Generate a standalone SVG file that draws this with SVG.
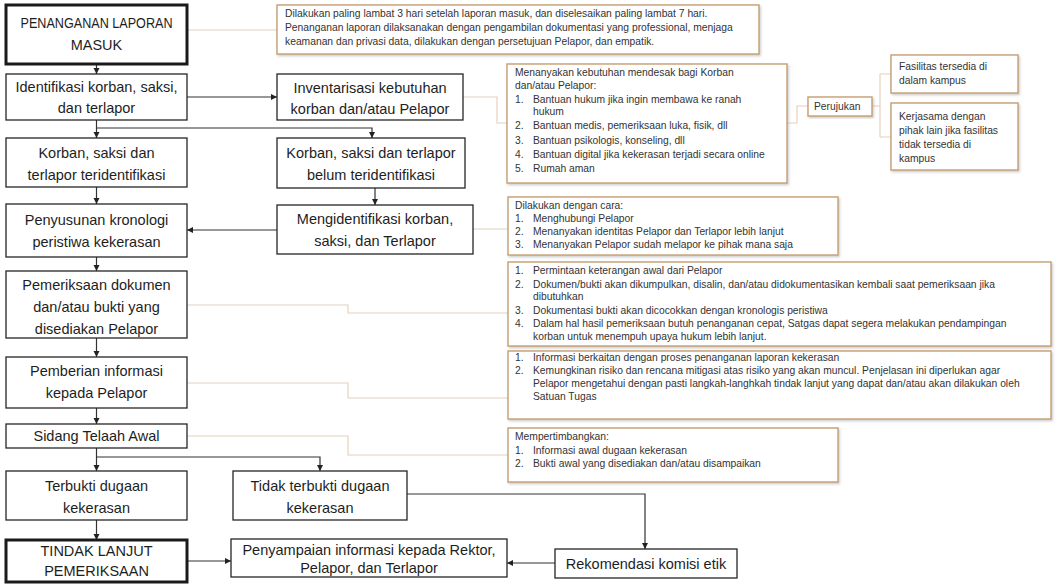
<svg xmlns="http://www.w3.org/2000/svg" width="1057" height="587" viewBox="0 0 1057 587">
<defs>
<style>
.bx{fill:#fff;stroke:#262626;stroke-width:1.3}
.bxb{fill:#fff;stroke:#1a1a1a;stroke-width:3}
.nt{fill:#fff;stroke:#C59E72;stroke-width:1.4;filter:url(#sh)}
.t{font-family:"Liberation Sans",Arial,sans-serif;font-size:14.5px;fill:#1e1e1e;text-anchor:middle}
.n{font-family:"Liberation Sans",Arial,sans-serif;font-size:10.3px;fill:#333}
.ca{fill:none;stroke:#333;stroke-width:1.2;marker-end:url(#ar)}
.cl{fill:none;stroke:#E4D2BC;stroke-width:1.2}
</style>
<marker id="ar" markerWidth="8" markerHeight="8" refX="6" refY="3" orient="auto" markerUnits="userSpaceOnUse">
<path d="M0,0 L6,3 L0,6 Z" fill="#222"/>
</marker>
<filter id="sh" x="-5%" y="-5%" width="110%" height="120%">
<feDropShadow dx="1.2" dy="1.5" stdDeviation="0.8" flood-color="#999" flood-opacity="0.5"/>
</filter>
</defs>
<rect width="1057" height="587" fill="#fff"/>

<g id="connectors">
<path class="cl" d="M187,30 H277"/>
<path class="cl" d="M463,97 H497 V123 H507"/>
<path class="cl" d="M787,123 H797 V106 H808"/>
<path class="cl" d="M872,106 H880 M880,74 V137 M880,74 H891 M880,137 H891"/>
<path class="cl" d="M473,229 H508"/>
<path class="cl" d="M187,305 H348 V313 H508"/>
<path class="cl" d="M187,383 H348 V398 H508"/>
<path class="cl" d="M187,436 H348 V455 H508"/>

<path class="ca" d="M96.5,64 V74"/>
<path class="ca" d="M187,97 H277"/>
<path class="ca" d="M96.5,120 V138"/>
<path class="ca" d="M96.5,128 H372 V138"/>
<path class="ca" d="M375,188 V205"/>
<path class="ca" d="M277,230 H187"/>
<path class="ca" d="M96.5,187 V204"/>
<path class="ca" d="M96.5,257 V271"/>
<path class="ca" d="M96.5,338 V357"/>
<path class="ca" d="M96.5,408 V424"/>
<path class="ca" d="M96.5,448 V471"/>
<path class="ca" d="M96.5,457 H320 V471"/>
<path class="ca" d="M96.5,520 V540"/>
<path class="ca" d="M187,561 H231"/>
<path class="ca" d="M407,494 H645 V549"/>
<path class="ca" d="M555,563 H507"/>
</g>

<g id="n-penanganan">
<rect class="bxb" x="6" y="5" width="181" height="59"/>
<text class="t" x="96.5" y="28" textLength="152" lengthAdjust="spacingAndGlyphs">PENANGANAN LAPORAN</text>
<text class="t" x="96.5" y="50">MASUK</text>
</g>
<g id="n-identifikasi">
<rect class="bx" x="6" y="74" width="181" height="46"/>
<text class="t" x="96.5" y="92">Identifikasi korban, saksi,</text>
<text class="t" x="96.5" y="113">dan terlapor</text>
</g>
<g id="n-teridentifikasi">
<rect class="bx" x="6" y="138" width="181" height="49"/>
<text class="t" x="96.5" y="158">Korban, saksi dan</text>
<text class="t" x="96.5" y="180">terlapor teridentifikasi</text>
</g>
<g id="n-penyusunan">
<rect class="bx" x="6" y="204" width="181" height="53"/>
<text class="t" x="96.5" y="225">Penyusunan kronologi</text>
<text class="t" x="96.5" y="247">peristiwa kekerasan</text>
</g>
<g id="n-pemeriksaan">
<rect class="bx" x="6" y="271" width="181" height="67"/>
<text class="t" x="96.5" y="290">Pemeriksaan dokumen</text>
<text class="t" x="96.5" y="312">dan/atau bukti yang</text>
<text class="t" x="96.5" y="334">disediakan Pelapor</text>
</g>
<g id="n-pemberian">
<rect class="bx" x="6" y="357" width="181" height="51"/>
<text class="t" x="96.5" y="376">Pemberian informasi</text>
<text class="t" x="96.5" y="398">kepada Pelapor</text>
</g>
<g id="n-sidang">
<rect class="bx" x="6" y="424" width="181" height="24"/>
<text class="t" x="96.5" y="441">Sidang Telaah Awal</text>
</g>
<g id="n-terbukti">
<rect class="bx" x="6" y="471" width="181" height="49"/>
<text class="t" x="96.5" y="491">Terbukti dugaan</text>
<text class="t" x="96.5" y="513">kekerasan</text>
</g>
<g id="n-tindak">
<rect class="bxb" x="6" y="540" width="181" height="42"/>
<text class="t" x="96.5" y="556">TINDAK LANJUT</text>
<text class="t" x="96.5" y="576">PEMERIKSAAN</text>
</g>

<g id="n-inventarisasi">
<rect class="bx" x="277" y="74" width="186" height="46"/>
<text class="t" x="370" y="93">Inventarisasi kebutuhan</text>
<text class="t" x="370" y="114">korban dan/atau Pelapor</text>
</g>
<g id="n-belum">
<rect class="bx" x="277" y="138" width="188" height="50"/>
<text class="t" x="371" y="158">Korban, saksi dan terlapor</text>
<text class="t" x="371" y="180">belum teridentifikasi</text>
</g>
<g id="n-mengidentifikasi">
<rect class="bx" x="277" y="205" width="196" height="49"/>
<text class="t" x="375" y="224">Mengidentifikasi korban,</text>
<text class="t" x="375" y="246">saksi, dan Terlapor</text>
</g>
<g id="n-tidak">
<rect class="bx" x="233" y="471" width="174" height="49"/>
<text class="t" x="320" y="491">Tidak terbukti dugaan</text>
<text class="t" x="320" y="513">kekerasan</text>
</g>
<g id="n-penyampaian">
<rect class="bx" x="231" y="539" width="276" height="38"/>
<text class="t" x="369" y="555">Penyampaian informasi kepada Rektor,</text>
<text class="t" x="369" y="573">Pelapor, dan Terlapor</text>
</g>
<g id="n-rekomendasi">
<rect class="bx" x="555" y="549" width="182" height="29"/>
<text class="t" x="646" y="569">Rekomendasi komisi etik</text>
</g>

<g id="note-waktu">
<rect class="nt" x="277" y="5" width="482" height="49"/>
<text class="n" x="285" y="17">Dilakukan paling lambat 3 hari setelah laporan masuk, dan diselesaikan paling lambat 7 hari.</text>
<text class="n" x="285" y="31">Penanganan laporan dilaksanakan dengan pengambilan dokumentasi yang professional, menjaga</text>
<text class="n" x="285" y="45">keamanan dan privasi data, dilakukan dengan persetujuan Pelapor, dan empatik.</text>
</g>
<g id="note-kebutuhan">
<rect class="nt" x="507" y="64" width="280" height="119"/>
<text class="n" x="515" y="76">Menanyakan kebutuhan mendesak bagi Korban</text>
<text class="n" x="515" y="89">dan/atau Pelapor:</text>
<text class="n" x="515" y="103">1.</text><text class="n" x="533" y="103">Bantuan hukum jika ingin membawa ke ranah</text>
<text class="n" x="533" y="115">hukum</text>
<text class="n" x="515" y="129">2.</text><text class="n" x="533" y="129">Bantuan medis, pemeriksaan luka, fisik, dll</text>
<text class="n" x="515" y="144">3.</text><text class="n" x="533" y="144">Bantuan psikologis, konseling, dll</text>
<text class="n" x="515" y="158">4.</text><text class="n" x="533" y="158">Bantuan digital jika kekerasan terjadi secara online</text>
<text class="n" x="515" y="172">5.</text><text class="n" x="533" y="172">Rumah aman</text>
</g>
<g id="n-perujukan">
<rect class="nt" x="808" y="97" width="64" height="19"/>
<text class="n" x="814" y="110">Perujukan</text>
</g>
<g id="n-fasilitas">
<rect class="nt" x="891" y="55" width="127" height="38"/>
<text class="n" x="899" y="70">Fasilitas tersedia di</text>
<text class="n" x="899" y="84">dalam kampus</text>
</g>
<g id="n-kerjasama">
<rect class="nt" x="891" y="103" width="127" height="67"/>
<text class="n" x="899" y="120">Kerjasama dengan</text>
<text class="n" x="899" y="134">pihak lain jika fasilitas</text>
<text class="n" x="899" y="148">tidak tersedia di</text>
<text class="n" x="899" y="162">kampus</text>
</g>
<g id="note-cara">
<rect class="nt" x="508" y="197" width="330" height="58"/>
<text class="n" x="515" y="209">Dilakukan dengan cara:</text>
<text class="n" x="515" y="222">1.</text><text class="n" x="533" y="222">Menghubungi Pelapor</text>
<text class="n" x="515" y="235">2.</text><text class="n" x="533" y="235">Menanyakan identitas Pelapor dan Terlapor lebih lanjut</text>
<text class="n" x="515" y="248">3.</text><text class="n" x="533" y="248">Menanyakan Pelapor sudah melapor ke pihak mana saja</text>
</g>
<g id="note-pemeriksaan">
<rect class="nt" x="508" y="262" width="543" height="84"/>
<text class="n" x="515" y="274">1.</text><text class="n" x="533" y="274">Permintaan keterangan awal dari Pelapor</text>
<text class="n" x="515" y="288">2.</text><text class="n" x="533" y="288">Dokumen/bukti akan dikumpulkan, disalin, dan/atau didokumentasikan kembali saat pemeriksaan jika</text>
<text class="n" x="533" y="300">dibutuhkan</text>
<text class="n" x="515" y="314">3.</text><text class="n" x="533" y="314">Dokumentasi bukti akan dicocokkan dengan kronologis peristiwa</text>
<text class="n" x="515" y="327">4.</text><text class="n" x="533" y="327">Dalam hal hasil pemeriksaan butuh penanganan cepat, Satgas dapat segera melakukan pendampingan</text>
<text class="n" x="533" y="340">korban untuk menempuh upaya hukum lebih lanjut.</text>
</g>
<g id="note-informasi">
<rect class="nt" x="508" y="351" width="543" height="68"/>
<text class="n" x="515" y="361">1.</text><text class="n" x="533" y="361">Informasi berkaitan dengan proses penanganan laporan kekerasan</text>
<text class="n" x="515" y="374">2.</text><text class="n" x="533" y="374">Kemungkinan risiko dan rencana mitigasi atas risiko yang akan muncul. Penjelasan ini diperlukan agar</text>
<text class="n" x="533" y="387">Pelapor mengetahui dengan pasti langkah-langhkah tindak lanjut yang dapat dan/atau akan dilakukan oleh</text>
<text class="n" x="533" y="400">Satuan Tugas</text>
</g>
<g id="note-pertimbangan">
<rect class="nt" x="508" y="428" width="330" height="54"/>
<text class="n" x="515" y="440">Mempertimbangkan:</text>
<text class="n" x="515" y="454">1.</text><text class="n" x="533" y="454">Informasi awal dugaan kekerasan</text>
<text class="n" x="515" y="467">2.</text><text class="n" x="533" y="467">Bukti awal yang disediakan dan/atau disampaikan</text>
</g>
</svg>
